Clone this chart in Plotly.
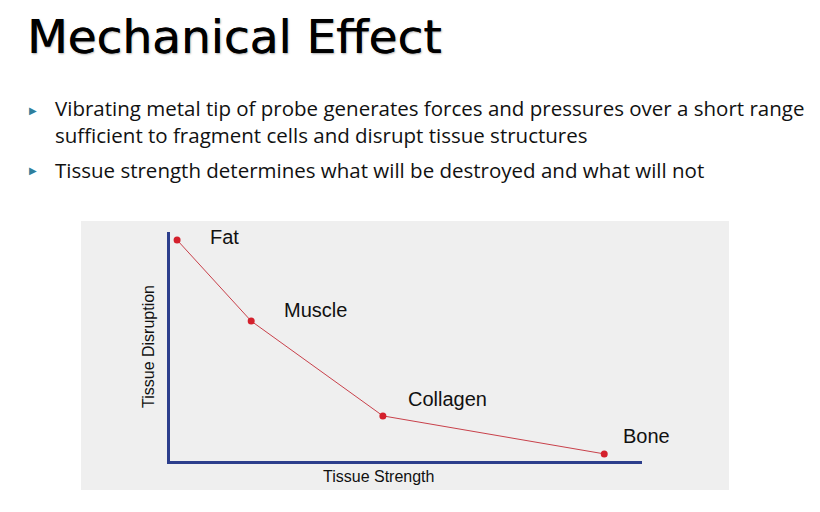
import plotly.graph_objects as go

# Data (arbitrary 0-100 units)
tissues = ["Fat", "Muscle", "Collagen", "Bone"]
strength = [1.5, 17.2, 45.1, 92.0]
disruption = [96.5, 61.1, 19.7, 3.1]

title_text = "Mechanical Effect"
bullets = [
    "Vibrating metal tip of probe generates forces and pressures over a short range<br>sufficient to fragment cells and disrupt tissue structures",
    "Tissue strength determines what will be destroyed and what will not",
]
x_title = "Tissue Strength"
y_title = "Tissue Disruption"

# label offsets in px (style only)
label_dx = [31, 31, 23, 17]
label_dy = [3, 11, 17, 18]
block_y_px = [121.5, 170]
mark_y_px = [110, 170]

W, H = 820, 512

fig = go.Figure()
fig.add_trace(go.Scatter(
    x=strength, y=disruption, mode="lines+markers",
    line=dict(color="#c8404a", width=1),
    marker=dict(color="#d4202c", size=7),
    hoverinfo="skip", showlegend=False,
))

annotations = []
for name, xv, yv, dx, dy in zip(tissues, strength, disruption, label_dx, label_dy):
    annotations.append(dict(
        x=xv, y=yv, xref="x", yref="y", text=name, showarrow=False,
        xanchor="left", yanchor="middle", xshift=dx, yshift=dy,
        font=dict(family="Liberation Sans, Arial", size=20, color="#111111"),
    ))

# axis titles
annotations.append(dict(
    x=378 / W, y=1 - 476 / H, xref="paper", yref="paper", text=x_title,
    showarrow=False, xanchor="center", yanchor="middle",
    font=dict(family="Liberation Sans, Arial", size=16, color="#111111"),
))
annotations.append(dict(
    x=148 / W, y=1 - 347 / H, xref="paper", yref="paper", text=y_title,
    showarrow=False, xanchor="center", yanchor="middle", textangle=-90,
    font=dict(family="Liberation Sans, Arial", size=16, color="#111111"),
))

# slide title
annotations.append(dict(
    x=25 / W, y=1 - 36 / H, xref="paper", yref="paper", text=title_text,
    showarrow=False, xanchor="left", yanchor="middle",
    font=dict(family="DejaVu Sans", size=47, color="#000000",
              shadow="0.4px 0 0 #000, 1px 1px 2px #aaa"),
))

# bullets
for txt, by, my in zip(bullets, block_y_px, mark_y_px):
    annotations.append(dict(
        x=53 / W, y=1 - by / H, xref="paper", yref="paper", text=txt,
        showarrow=False, xanchor="left", yanchor="middle", align="left",
        font=dict(family="Open Sans", size=20.5, color="#111111"),
    ))
    annotations.append(dict(
        x=33 / W, y=1 - my / H, xref="paper", yref="paper", text="▶",
        showarrow=False, xanchor="center", yanchor="middle",
        font=dict(family="DejaVu Sans", size=10, color="#2f7f9c"),
    ))

shapes = [dict(
    type="rect", xref="paper", yref="paper",
    x0=81 / W, x1=729 / W, y0=1 - 490 / H, y1=1 - 221 / H,
    fillcolor="#efefef", line=dict(width=0), layer="below",
)]

fig.update_layout(
    width=W, height=H, margin=dict(l=0, r=0, t=0, b=0),
    paper_bgcolor="white", plot_bgcolor="rgba(0,0,0,0)",
    annotations=annotations, shapes=shapes, showlegend=False,
    xaxis=dict(domain=[170 / W, 642 / W], range=[0, 100], showgrid=False,
               zeroline=False, showticklabels=False, ticks="",
               showline=True, linecolor="#2c3e8c", linewidth=3, fixedrange=True),
    yaxis=dict(domain=[1 - 461 / H, 1 - 232 / H], range=[0, 100], showgrid=False,
               zeroline=False, showticklabels=False, ticks="",
               showline=True, linecolor="#2c3e8c", linewidth=3, fixedrange=True),
)

fig.write_html("out.html", config={"displayModeBar": False})
